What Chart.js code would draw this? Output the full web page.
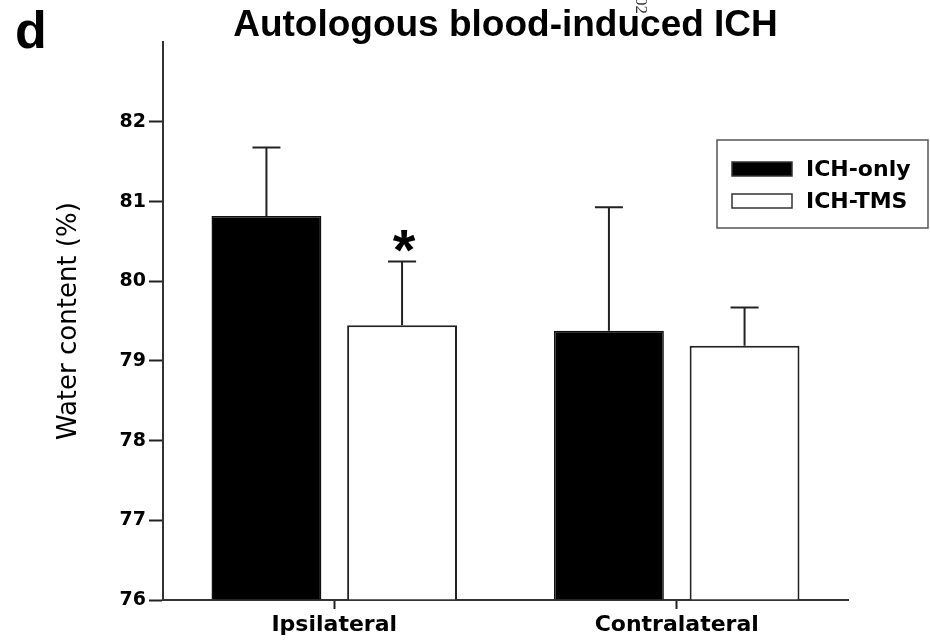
<!DOCTYPE html>
<html><head><meta charset="utf-8">
<script src="https://cdn.jsdelivr.net/npm/chart.js@4/dist/chart.umd.min.js"></script>
<style>html,body{margin:0;padding:0;background:#fff;}#wrap{width:930px;height:641px;}</style>
</head><body><div id="wrap"><canvas id="c" width="930" height="641"></canvas></div>
<script>
// ---- data ----
const categories = ['Ipsilateral', 'Contralateral'];
const seriesNames = ['ICH-only', 'ICH-TMS'];
const ichOnly = [80.82, 79.38];
const ichTms = [79.45, 79.19];
const ichOnlyErr = [0.86, 1.55];
const ichTmsErr = [0.80, 0.48];
const ichOnlyMarks = ['', ''];
const ichTmsMarks = ['*', ''];
const yMin = 76, yMax = 83, yStep = 1;
const chartTitle = 'Autologous blood-induced ICH';
const yTitle = 'Water content (%)';
const panelLetter = 'd';

const errs = [ichOnlyErr, ichTmsErr];
const marks = [ichOnlyMarks, ichTmsMarks];

const errorBarPlugin = {
  id: 'errorBars',
  afterDatasetsDraw(chart) {
    const ctx = chart.ctx, y = chart.scales.y;
    ctx.save();
    chart.data.datasets.forEach((ds, i) => {
      const meta = chart.getDatasetMeta(i);
      meta.data.forEach((bar, j) => {
        const v = ds.data[j];
        const top = y.getPixelForValue(v + errs[i][j]);
        const base = y.getPixelForValue(v);
        ctx.strokeStyle = '#222'; ctx.lineWidth = 2;
        ctx.beginPath();
        ctx.moveTo(bar.x, base); ctx.lineTo(bar.x, top);
        ctx.moveTo(bar.x - 14, top); ctx.lineTo(bar.x + 14, top);
        ctx.stroke();
        if (marks[i][j]) {
          ctx.fillStyle = '#000';
          ctx.font = 'bold 58px "Liberation Sans", Arial';
          ctx.textAlign = 'center'; ctx.textBaseline = 'alphabetic';
          ctx.fillText(marks[i][j], bar.x + 2, top + 9);
        }
      });
    });
    ctx.restore();
  }
};

const decorPlugin = {
  id: 'decor',
  afterDraw(chart) {
    const ctx = chart.ctx;
    ctx.save();
    // panel letter
    ctx.fillStyle = '#000';
    ctx.font = 'bold 52px "Liberation Sans", Arial';
    ctx.textAlign = 'left'; ctx.textBaseline = 'alphabetic';
    ctx.fillText(panelLetter, 15, 48);
    // small rotated stamp
    ctx.save();
    ctx.translate(636, -3);
    ctx.rotate(Math.PI / 2);
    ctx.font = '17px "Liberation Serif", serif';
    ctx.fillStyle = '#333';
    ctx.fillText('02', 0, 0);
    ctx.restore();
    // legend
    const lx = 717, ly = 140, lw = 211, lh = 88;
    ctx.strokeStyle = '#555'; ctx.lineWidth = 1.5;
    ctx.strokeRect(lx, ly, lw, lh);
    chart.data.datasets.forEach((ds, i) => {
      const sy = 162 + i * 32;
      ctx.fillStyle = ds.backgroundColor;
      ctx.fillRect(732, sy, 60, 14);
      ctx.strokeStyle = '#333'; ctx.lineWidth = 1.5;
      ctx.strokeRect(732, sy, 60, 14);
      ctx.fillStyle = '#000';
      ctx.font = 'bold 22px "DejaVu Sans"';
      ctx.textBaseline = 'middle';
      ctx.fillText(ds.label, 806, sy + 8);
    });
    ctx.restore();
  }
};

new Chart(document.getElementById('c'), {
  type: 'bar',
  data: {
    labels: categories,
    datasets: [
      { label: seriesNames[0], data: ichOnly, backgroundColor: '#000000', borderColor: '#111', borderWidth: 1.5,
        base: yMin, categoryPercentage: 0.792, barPercentage: 0.81 },
      { label: seriesNames[1], data: ichTms, backgroundColor: '#ffffff', borderColor: '#222', borderWidth: 2,
        base: yMin, categoryPercentage: 0.792, barPercentage: 0.81 }
    ]
  },
  options: {
    responsive: false,
    animation: false,
    devicePixelRatio: 1,
    layout: { padding: { left: 0, right: 82, top: 0, bottom: 0 } },
    plugins: {
      legend: { display: false },
      tooltip: { enabled: false },
      title: {
        display: true, text: chartTitle, fullSize: false, color: '#000',
        font: { family: '"Liberation Sans", Arial', size: 37, weight: 'bold', lineHeight: 0.9 },
        padding: { top: 9, bottom: 0 }
      }
    },
    scales: {
      x: {
        offset: true,
        grid: { offset: false, drawOnChartArea: false, drawTicks: true, tickLength: 9, tickWidth: 2, tickColor: '#222' },
        border: { display: true, color: '#333', width: 2 },
        ticks: { color: '#000', padding: 3, font: { family: '"DejaVu Sans"', size: 22, weight: 'bold' } },
        afterFit(s) { s.height = 41; }
      },
      y: {
        min: yMin, max: yMax,
        ticks: {
          stepSize: yStep, color: '#000', padding: 3,
          font: { family: '"DejaVu Sans"', size: 19, weight: 'bold' },
          callback: v => (v === yMax ? '' : v)
        },
        grid: { drawOnChartArea: false, tickLength: 14, tickWidth: 2,
          tickColor: c => (c.tick && c.tick.value === yMax ? 'rgba(0,0,0,0)' : '#222') },
        border: { display: true, color: '#333', width: 2 },
        title: { display: true, text: yTitle, color: '#000',
          font: { family: '"DejaVu Sans"', size: 26, weight: 'normal', lineHeight: 1.2 },
          padding: { top: 54, bottom: 0 } },
        afterFit(s) { s.width = 163; }
      }
    }
  },
  plugins: [errorBarPlugin, decorPlugin]
});
</script></body></html>
